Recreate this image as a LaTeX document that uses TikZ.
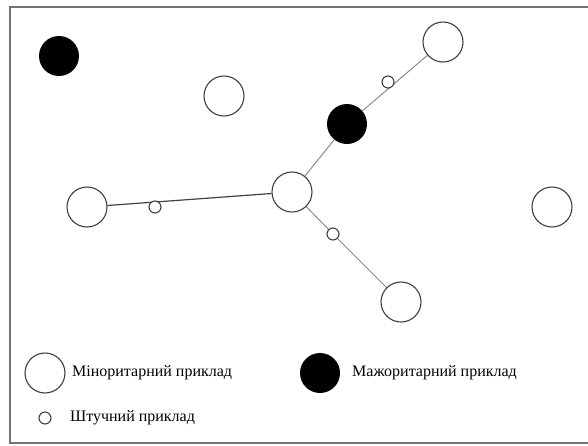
\documentclass[tikz,border=0pt]{standalone}
\usepackage{fontspec}
\setmainfont{Liberation Serif}
\usetikzlibrary{backgrounds}

\begin{document}
\begin{tikzpicture}[x=1pt,y=-1pt,
  minor/.style={circle,draw=black!75,line width=1.1pt,fill=white,minimum size=40pt,inner sep=0pt},
  major/.style={circle,fill=black,minimum size=40pt,inner sep=0pt},
  synth/.style={circle,draw=black!75,line width=1.1pt,fill=white,minimum size=12pt,inner sep=0pt},
  link/.style={draw=black!45,line width=1pt},
  label/.style={anchor=west,inner sep=0pt,font=\fontsize{16}{18}\selectfont}]

  \useasboundingbox (0,0) rectangle (588,445);
  \draw[black!55,line width=1.5pt] (588,7) -- (10,7) -- (10,443) -- (588,443);

  % examples
  \node[major] (maj1) at (59,56) {};
  \node[minor] (min1) at (224,96) {};
  \node[minor] (min2) at (443,42) {};
  \node[synth] (syn1) at (388,82) {};
  \node[major] (maj2) at (347,124) {};
  \node[minor] (min3) at (292,192) {};
  \node[minor] (min4) at (87,207) {};
  \node[synth] (syn2) at (155,207) {};
  \node[synth] (syn3) at (333,234) {};
  \node[minor] (min5) at (401,302) {};
  \node[minor] (min6) at (552,207) {};

  \begin{scope}[on background layer]
    \draw[link] (min3) -- (maj2) -- (min2);
    \draw[link] (min3) -- (syn3) -- (min5);
    \draw[link,draw=black!75,line width=1.2pt] (min4) -- (min3);
  \end{scope}

  % legend
  \node[minor] (legmin) at (45,373) {};
  \node[label] (txtmin) at (72,373) {Міноритарний приклад};
  \node[major] (legmaj) at (320,373) {};
  \node[label] (txtmaj) at (352,373) {Мажоритарний приклад};
  \node[synth] (legsyn) at (45,418) {};
  \node[label] (txtsyn) at (70,418) {Штучний приклад};

\end{tikzpicture}
\end{document}
